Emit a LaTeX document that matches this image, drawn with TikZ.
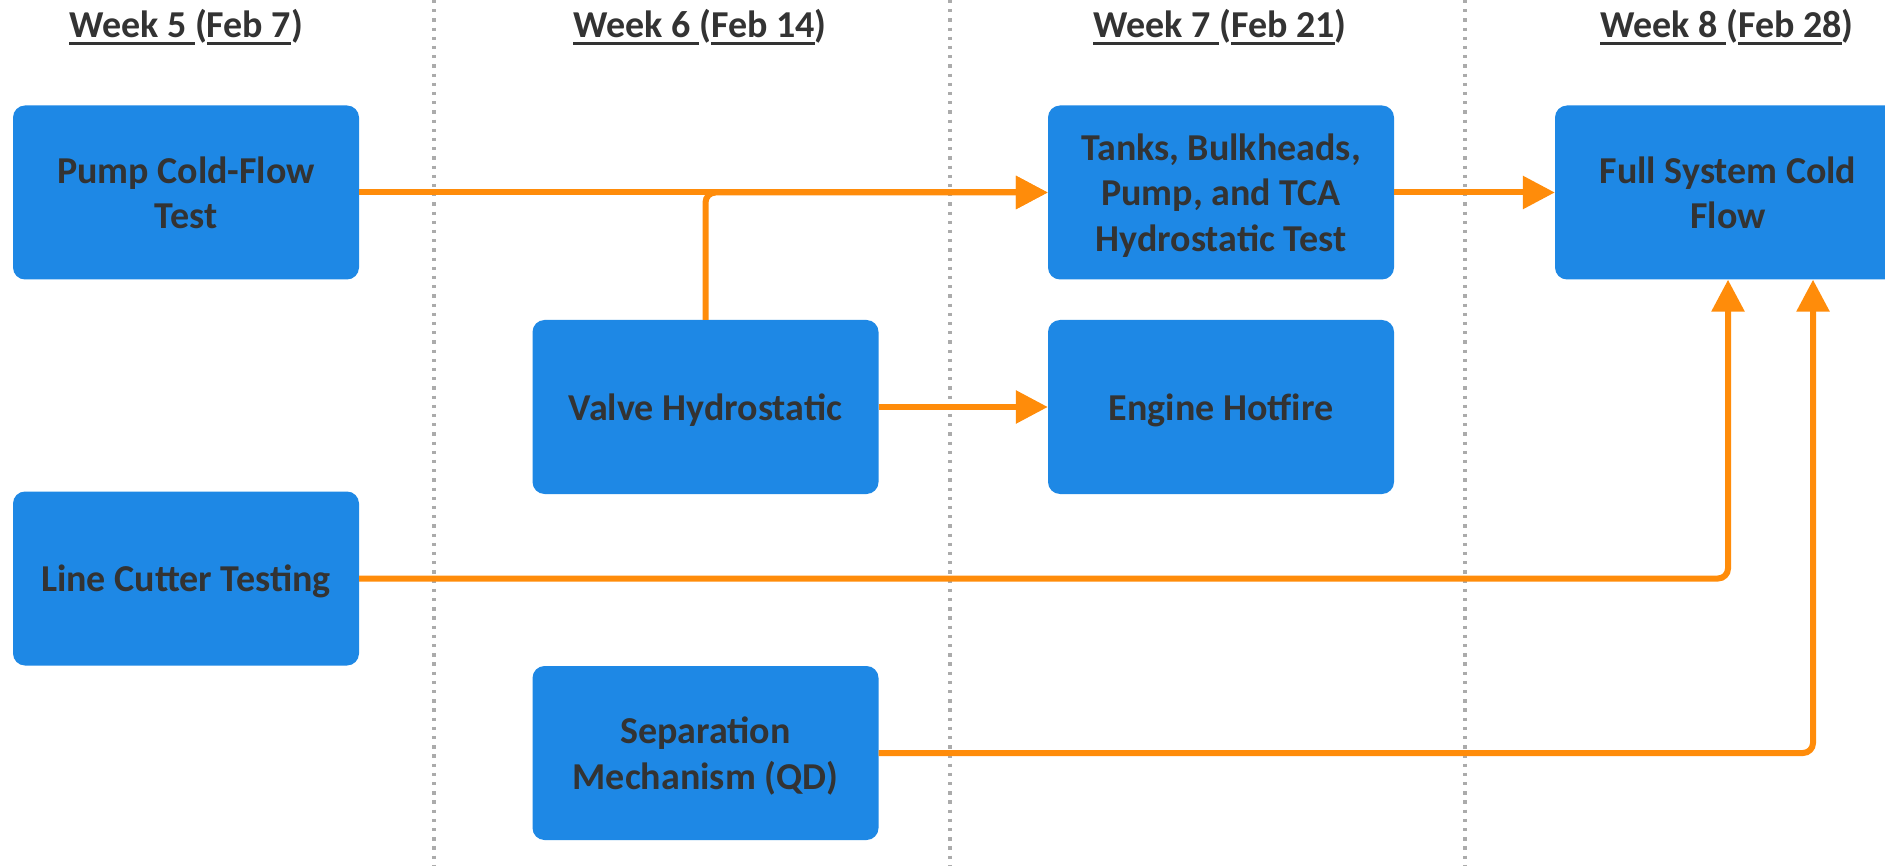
\documentclass[tikz,border=0pt]{standalone}
\usepackage{fontspec}
\setmainfont{Carlito}
\usetikzlibrary{arrows.meta,calc}

\definecolor{boxblue}{HTML}{1E88E5}
\definecolor{flow}{HTML}{FF8C0A}
\definecolor{ink}{HTML}{333333}
\definecolor{rulegray}{HTML}{ABABAB}

% underline a piece of text with a solid bar below the baseline
\newsavebox\ulinebox
\newcommand\ulined[1]{\sbox\ulinebox{#1}\rlap{\rule[-7pt]{\wd\ulinebox}{3pt}}\usebox\ulinebox}

\begin{document}
\begin{tikzpicture}[x=1pt,y=-1pt,
  task/.style={fill=boxblue, rounded corners=12pt, minimum width=346pt,
    minimum height=174pt, inner sep=0pt, text=ink, align=center, text depth=0pt,
    font=\fontsize{38}{45.5}\selectfont\bfseries},
  week/.style={anchor=base, text=ink, inner sep=0pt,
    font=\fontsize{38}{45.5}\selectfont\bfseries},
  divider/.style={rulegray, line width=3.5pt, dash pattern=on 3.3pt off 5.9pt},
  link/.style={flow, line width=6pt, rounded corners=10pt},
  tip/.style={-{Triangle[length=32pt,width=32pt]}}]

\useasboundingbox (0,0) rectangle (1885,866);
\clip (0,0) rectangle (1885,866);
\fill[white] (0,0) rectangle (1885,866);

% week separators
\draw[divider] (434,0) -- (434,866);
\draw[divider] (950,0) -- (950,866);
\draw[divider] (1465,0) -- (1465,866);

% week headings
\node[week] (w5) at (186,37.7) {\ulined{Week 5 }(\ulined{Feb 7})};
\node[week] (w6) at (700,37.7) {\ulined{Week 6 }(\ulined{Feb 14})};
\node[week] (w7) at (1220,37.7) {\ulined{Week 7 }(\ulined{Feb 21})};
\node[week] (w8) at (1727,37.7) {\ulined{Week 8 }(\ulined{Feb 28})};

% tasks
\node[task] (pump)   at (186,192.5)  {Pump Cold-Flow\\Test};
\node[task] (tanks)  at (1221,192.5) {Tanks, Bulkheads,\\Pump, and TCA\\Hydrostatic Test};
\node[task] (full)   at (1728,192.5) {Full System Cold\\Flow};
\node[task] (valve)  at (705.5,407)  {Valve Hydrostatic};
\node[task] (engine) at (1221,407)   {Engine Hotfire};
\node[task] (cutter) at (186,578.5)  {Line Cutter Testing};
\node[task] (sep)    at (705.5,753)  {Separation\\Mechanism (QD)};

\coordinate (fullin) at ([xshift=85pt]full.south);

% dependencies
\draw[link,tip] (pump) -- (tanks);
\draw[link,tip] (valve.north) |- (tanks.west);
\draw[link,tip] (valve) -- (engine);
\draw[link,tip] (tanks) -- (full);
\draw[link,tip] (cutter.east) -| (full.south);
\draw[link,tip] (sep.east) -| (fullin);
\end{tikzpicture}
\end{document}
